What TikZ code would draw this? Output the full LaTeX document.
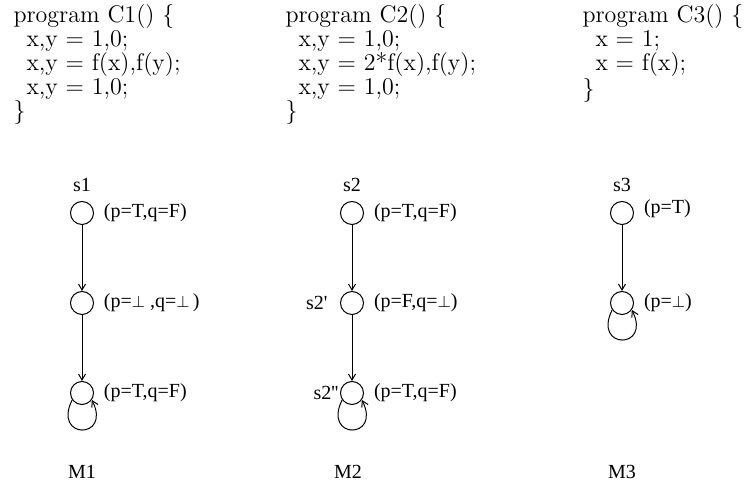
\documentclass[tikz,border=0pt]{standalone}
\usepackage{fontspec}
\newfontfamily\lblfont{Liberation Serif}
\usetikzlibrary{positioning,arrows.meta}
\newcommand{\btm}{{\fontsize{8}{8}\selectfont$\bot$}}
\newcommand{\ind}{\hspace*{6.5pt}}

\begin{document}
\begin{tikzpicture}[x=0.5pt, y=0.5pt, line width=0.5pt,
    >={Straight Barb[length=3pt,width=3.5pt]},
    state/.style={circle, draw, minimum size=11.5pt, inner sep=0pt},
    prop/.style={font=\lblfont, inner sep=0pt},
    code/.style={anchor=north west, align=left, inner sep=0pt,
      font=\fontsize{12}{12}\selectfont},
    selfloop/.style={->}]
  \useasboundingbox (0,0) rectangle (751,487);

  % programmes
  \node[code] (p1) at (13,483) {program C1() \{\\
    \ind x,y = 1,0;\\ \ind x,y = f(x),f(y);\\ \ind x,y = 1,0;\\ \}};
  \node[code] (p2) at (285,483) {program C2() \{\\
    \ind x,y = 1,0;\\ \ind x,y = 2*f(x),f(y);\\ \ind x,y = 1,0;\\ \}};
  \node[code] (p3) at (582,483) {program C3() \{\\
    \ind x = 1;\\ \ind x = f(x);\\ \}};

  % M1
  \node[state] (a1) at (82,274) {};
  \node[state] (a2) at (82,184) {};
  \node[state] (a3) at (82,94) {};
  \node[prop, above=4.5pt of a1] {s1};
  \node[prop, right=4.75pt of a1] {(p=T,q=F)};
  \node[prop, right=4.75pt of a2] {(p=\btm\ ,q=\btm\,)};
  \node[prop, right=4.75pt of a3] {(p=T,q=F)};
  \draw[->] (a1) -- (a2);
  \draw[->] (a2) -- (a3);
  \draw[selfloop] (a3.215) .. controls +(-20,-40) and +(20,-40) .. (a3.-35);
  \node[prop] (m1) at (82,15) {M1};

  % M2
  \node[state] (b1) at (352,274) {};
  \node[state] (b2) at (352,184) {};
  \node[state] (b3) at (352,94) {};
  \node[prop, above=4.5pt of b1] {s2};
  \node[prop, left=6pt of b2] {s2'};
  \node[prop, left=0.5pt of b3] {s2'{}'};
  \node[prop, right=4.75pt of b1] {(p=T,q=F)};
  \node[prop, right=4.75pt of b2] {(p=F,q=\btm)};
  \node[prop, right=4.75pt of b3] {(p=T,q=F)};
  \draw[->] (b1) -- (b2);
  \draw[->] (b2) -- (b3);
  \draw[selfloop] (b3.215) .. controls +(-20,-40) and +(20,-40) .. (b3.-35);
  \node[prop] (m2) at (348,15) {M2};

  % M3
  \node[state] (c1) at (622,274) {};
  \node[state] (c2) at (622,184) {};
  \node[prop, above=4.5pt of c1] {s3};
  \node[prop, right=4.75pt of c1, yshift=2pt] {(p=T)};
  \node[prop, right=4.75pt of c2] {(p=\btm)};
  \draw[->] (c1) -- (c2);
  \draw[selfloop] (c2.215) .. controls +(-20,-40) and +(20,-40) .. (c2.-35);
  \node[prop] (m3) at (622,15) {M3};
\end{tikzpicture}
\end{document}
